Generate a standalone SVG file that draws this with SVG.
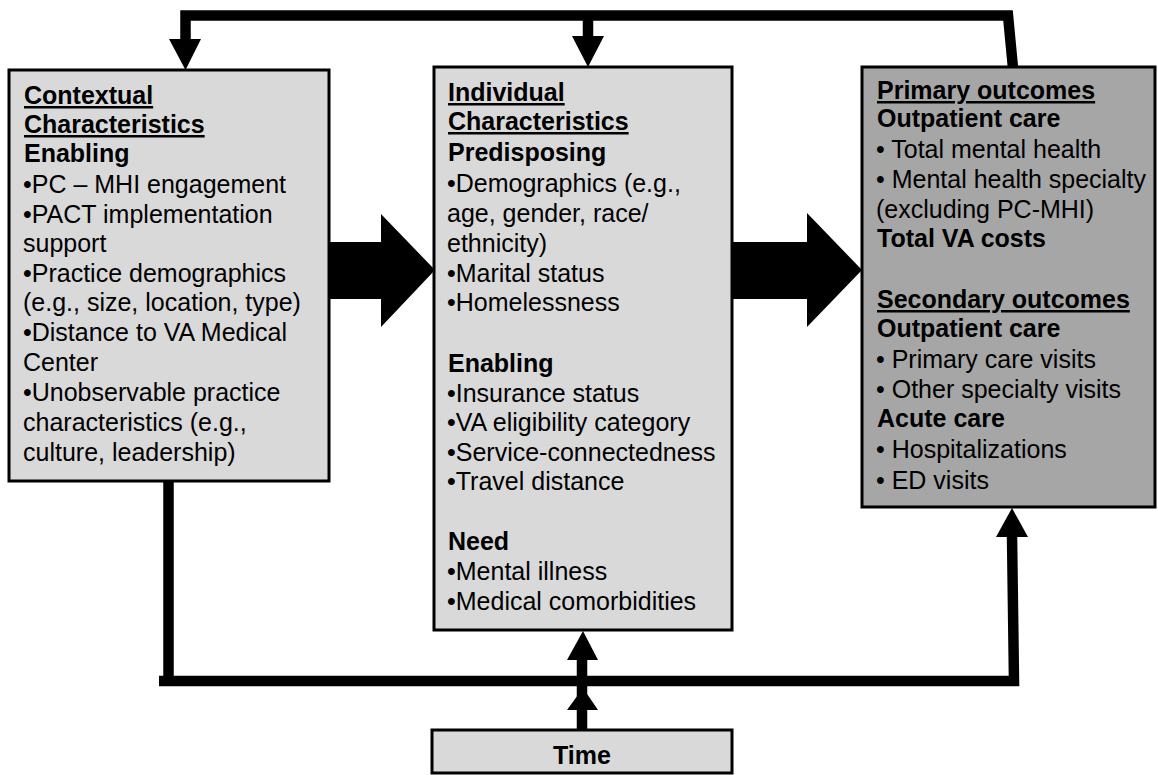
<svg xmlns="http://www.w3.org/2000/svg" width="1158" height="775" viewBox="0 0 1158 775">
<style>
.box{fill:#d9d9d9;stroke:#000;stroke-width:3}
.dark{fill:#a6a6a6}
text{font-family:"Liberation Sans",Arial,sans-serif;font-size:25px;fill:#000}
.b{font-weight:bold}
.u{font-weight:bold;text-decoration:underline}
.ln{fill:none;stroke:#000;stroke-width:10.5;stroke-linejoin:miter}
.hd{fill:#000}
</style>
<rect width="1158" height="775" fill="#fff"/>
<g id="connectors">
<path class="ln" d="M1013 68 L1008 15.5 L185.5 15.5 L185.5 42"/>
<polygon class="hd" points="169,39 201,39 185.5,70"/>
<path class="ln" d="M588 15.5 L588 38"/>
<polygon class="hd" points="572,36 604,36 588,67"/>
<path class="ln" d="M168.5 481 L168.5 686"/>
<path class="ln" d="M159 681 L1014 681 L1012 535"/>
<polygon class="hd" points="996,537 1028,537 1012,508"/>
<path class="ln" d="M582 730 L582 655"/>
<polygon class="hd" points="567,710 598,710 583,688"/>
<polygon class="hd" points="567,660 598,660 583,631"/>
<polygon class="hd" points="329,242 381,242 381,214 435,270 381,327 381,299 329,299"/>
<polygon class="hd" points="733,242 807,242 807,213 862,270 807,327 807,299 733,299"/>
</g>
<g id="contextual">
<rect class="box" x="9" y="70" width="320" height="411"/>
<text class="u" x="24" y="104">Contextual</text>
<text class="u" x="24" y="133">Characteristics</text>
<text class="b" x="24" y="162">Enabling</text>
<text x="23" y="193">•PC – MHI engagement</text>
<text x="23" y="223">•PACT implementation</text>
<text x="23" y="252">support</text>
<text x="23" y="282">•Practice demographics</text>
<text x="23" y="311">(e.g., size, location, type)</text>
<text x="23" y="341">•Distance to VA Medical</text>
<text x="23" y="371">Center</text>
<text x="23" y="401">•Unobservable practice</text>
<text x="23" y="431">characteristics (e.g.,</text>
<text x="23" y="461">culture, leadership)</text>
</g>
<g id="individual">
<rect class="box" x="434" y="67" width="298" height="563"/>
<text class="u" x="448" y="101">Individual</text>
<text class="u" x="448" y="130">Characteristics</text>
<text class="b" x="448" y="161">Predisposing</text>
<text x="447" y="192">•Demographics (e.g.,</text>
<text x="447" y="222">age, gender, race/</text>
<text x="447" y="252">ethnicity)</text>
<text x="447" y="282">•Marital status</text>
<text x="447" y="311">•Homelessness</text>
<text class="b" x="448" y="372">Enabling</text>
<text x="447" y="402">•Insurance status</text>
<text x="447" y="431">•VA eligibility category</text>
<text x="447" y="461">•Service-connectedness</text>
<text x="447" y="490">•Travel distance</text>
<text class="b" x="448" y="550">Need</text>
<text x="447" y="580">•Mental illness</text>
<text x="447" y="610">•Medical comorbidities</text>
</g>
<g id="outcomes">
<rect class="box dark" x="862" y="67" width="293" height="440"/>
<text class="u" x="877" y="99">Primary outcomes</text>
<text class="b" x="877" y="127">Outpatient care</text>
<text x="876" y="158">• Total mental health</text>
<text x="876" y="188">• Mental health specialty</text>
<text x="876" y="218">(excluding PC-MHI)</text>
<text class="b" x="877" y="247">Total VA costs</text>
<text class="u" x="877" y="308">Secondary outcomes</text>
<text class="b" x="877" y="337">Outpatient care</text>
<text x="876" y="368">• Primary care visits</text>
<text x="876" y="398">• Other specialty visits</text>
<text class="b" x="877" y="427">Acute care</text>
<text x="876" y="458">• Hospitalizations</text>
<text x="876" y="489">• ED visits</text>
</g>
<g id="time">
<rect class="box" x="432" y="730" width="300" height="43"/>
<text class="b" x="582" y="764" text-anchor="middle">Time</text>
</g>
</svg>
